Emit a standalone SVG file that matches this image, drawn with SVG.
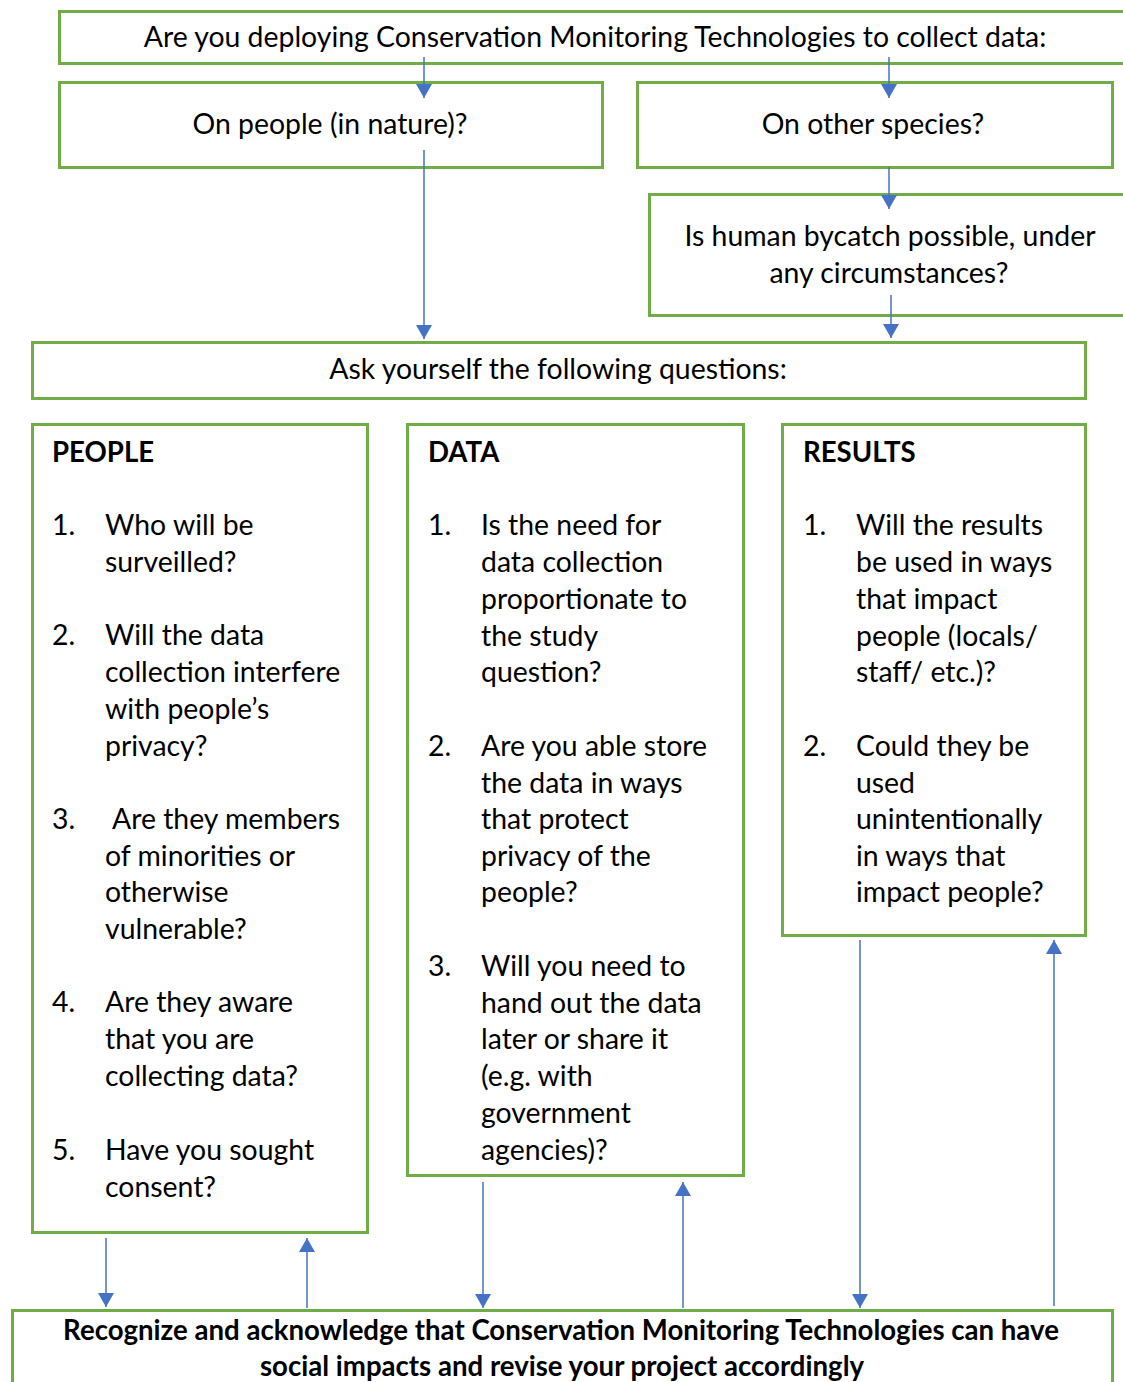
<svg xmlns="http://www.w3.org/2000/svg" width="1123" height="1382" viewBox="0 0 1123 1382">
<style>
.box{fill:#fff;stroke:#70AD47;stroke-width:3}
.t{font-family:Lato,"Liberation Sans",sans-serif;font-size:28.4px;fill:#000}
.c{text-anchor:middle}
.b{font-weight:bold;font-size:27.6px}
.con{stroke:#4472C4;stroke-width:1.5;fill:none}
</style>
<defs>
<marker id="ah" viewBox="0 0 14 16" refX="14" refY="8" markerWidth="14" markerHeight="16" markerUnits="userSpaceOnUse" orient="auto">
<path d="M0,0 L14,8 L0,16 Z" fill="#4472C4"/>
</marker>
</defs>
<rect width="1123" height="1382" fill="#fff"/>
<g id="n-top">
<rect class="box" x="59.5" y="11.5" width="1080" height="52"/>
<text class="t c" x="595" y="47">Are you deploying Conservation Monitoring Technologies to collect data:</text>
</g>
<g id="n-people-nature">
<rect class="box" x="59.5" y="82.5" width="543" height="85"/>
<text class="t c" x="330" y="134">On people (in nature)?</text>
</g>
<g id="n-other-species">
<rect class="box" x="637.5" y="82.5" width="475" height="85"/>
<text class="t c" x="873" y="134">On other species?</text>
</g>
<g id="n-bycatch">
<rect class="box" x="649.5" y="194.5" width="490" height="121"/>
<text class="t c" x="890" y="246">Is human bycatch possible, under</text>
<text class="t c" x="889" y="283">any circumstances?</text>
</g>
<g id="n-ask">
<rect class="box" x="32.5" y="342.5" width="1053" height="56"/>
<text class="t c" x="558" y="379">Ask yourself the following questions:</text>
</g>
<g id="n-people">
<rect class="box" x="32.5" y="424.5" width="335" height="808"/>
<text class="t b" x="52" y="462">PEOPLE</text>
<text class="t" x="52" y="535">1.</text>
<text class="t" x="105" y="535">Who will be</text>
<text class="t" x="105" y="572">surveilled?</text>
<text class="t" x="52" y="645">2.</text>
<text class="t" x="105" y="645">Will the data</text>
<text class="t" x="105" y="682">collection interfere</text>
<text class="t" x="105" y="719">with people’s</text>
<text class="t" x="105" y="756">privacy?</text>
<text class="t" x="52" y="829">3.</text>
<text class="t" x="112" y="829">Are they members</text>
<text class="t" x="105" y="866">of minorities or</text>
<text class="t" x="105" y="902">otherwise</text>
<text class="t" x="105" y="939">vulnerable?</text>
<text class="t" x="52" y="1012">4.</text>
<text class="t" x="105" y="1012">Are they aware</text>
<text class="t" x="105" y="1049">that you are</text>
<text class="t" x="105" y="1086">collecting data?</text>
<text class="t" x="52" y="1160">5.</text>
<text class="t" x="105" y="1160">Have you sought</text>
<text class="t" x="105" y="1197">consent?</text>
</g>
<g id="n-data">
<rect class="box" x="407.5" y="424.5" width="336" height="751"/>
<text class="t b" x="428" y="462">DATA</text>
<text class="t" x="428" y="535">1.</text>
<text class="t" x="481" y="535">Is the need for</text>
<text class="t" x="481" y="572">data collection</text>
<text class="t" x="481" y="609">proportionate to</text>
<text class="t" x="481" y="646">the study</text>
<text class="t" x="481" y="682">question?</text>
<text class="t" x="428" y="756">2.</text>
<text class="t" x="481" y="756">Are you able store</text>
<text class="t" x="481" y="793">the data in ways</text>
<text class="t" x="481" y="829">that protect</text>
<text class="t" x="481" y="866">privacy of the</text>
<text class="t" x="481" y="902">people?</text>
<text class="t" x="428" y="976">3.</text>
<text class="t" x="481" y="976">Will you need to</text>
<text class="t" x="481" y="1013">hand out the data</text>
<text class="t" x="481" y="1049">later or share it</text>
<text class="t" x="481" y="1086">(e.g. with</text>
<text class="t" x="481" y="1123">government</text>
<text class="t" x="481" y="1160">agencies)?</text>
</g>
<g id="n-results">
<rect class="box" x="782.5" y="424.5" width="303" height="511"/>
<text class="t b" x="803" y="462">RESULTS</text>
<text class="t" x="803" y="535">1.</text>
<text class="t" x="856" y="535">Will the results</text>
<text class="t" x="856" y="572">be used in ways</text>
<text class="t" x="856" y="609">that impact</text>
<text class="t" x="856" y="646">people (locals/</text>
<text class="t" x="856" y="682">staff/ etc.)?</text>
<text class="t" x="803" y="756">2.</text>
<text class="t" x="856" y="756">Could they be</text>
<text class="t" x="856" y="793">used</text>
<text class="t" x="856" y="829">unintentionally</text>
<text class="t" x="856" y="866">in ways that</text>
<text class="t" x="856" y="902">impact people?</text>
</g>
<g id="n-recognize">
<rect class="box" x="12.5" y="1310.5" width="1100" height="90"/>
<text class="t c b" x="561" y="1340">Recognize and acknowledge that Conservation Monitoring Technologies can have</text>
<text class="t c b" x="562" y="1376">social impacts and revise your project accordingly</text>
</g>
<g id="connectors">
<line class="con" x1="424" y1="57" x2="424" y2="98" marker-end="url(#ah)"/>
<line class="con" x1="889" y1="57" x2="889" y2="98" marker-end="url(#ah)"/>
<line class="con" x1="424" y1="150" x2="424" y2="339" marker-end="url(#ah)"/>
<line class="con" x1="889" y1="167" x2="889" y2="209" marker-end="url(#ah)"/>
<line class="con" x1="891" y1="295" x2="891" y2="338" marker-end="url(#ah)"/>
<line class="con" x1="106" y1="1238" x2="106" y2="1307" marker-end="url(#ah)"/>
<line class="con" x1="307" y1="1308" x2="307" y2="1238" marker-end="url(#ah)"/>
<line class="con" x1="483" y1="1182" x2="483" y2="1308" marker-end="url(#ah)"/>
<line class="con" x1="683" y1="1308" x2="683" y2="1182" marker-end="url(#ah)"/>
<line class="con" x1="860" y1="940" x2="860" y2="1308" marker-end="url(#ah)"/>
<line class="con" x1="1054" y1="1306" x2="1054" y2="940" marker-end="url(#ah)"/>
</g>
</svg>
